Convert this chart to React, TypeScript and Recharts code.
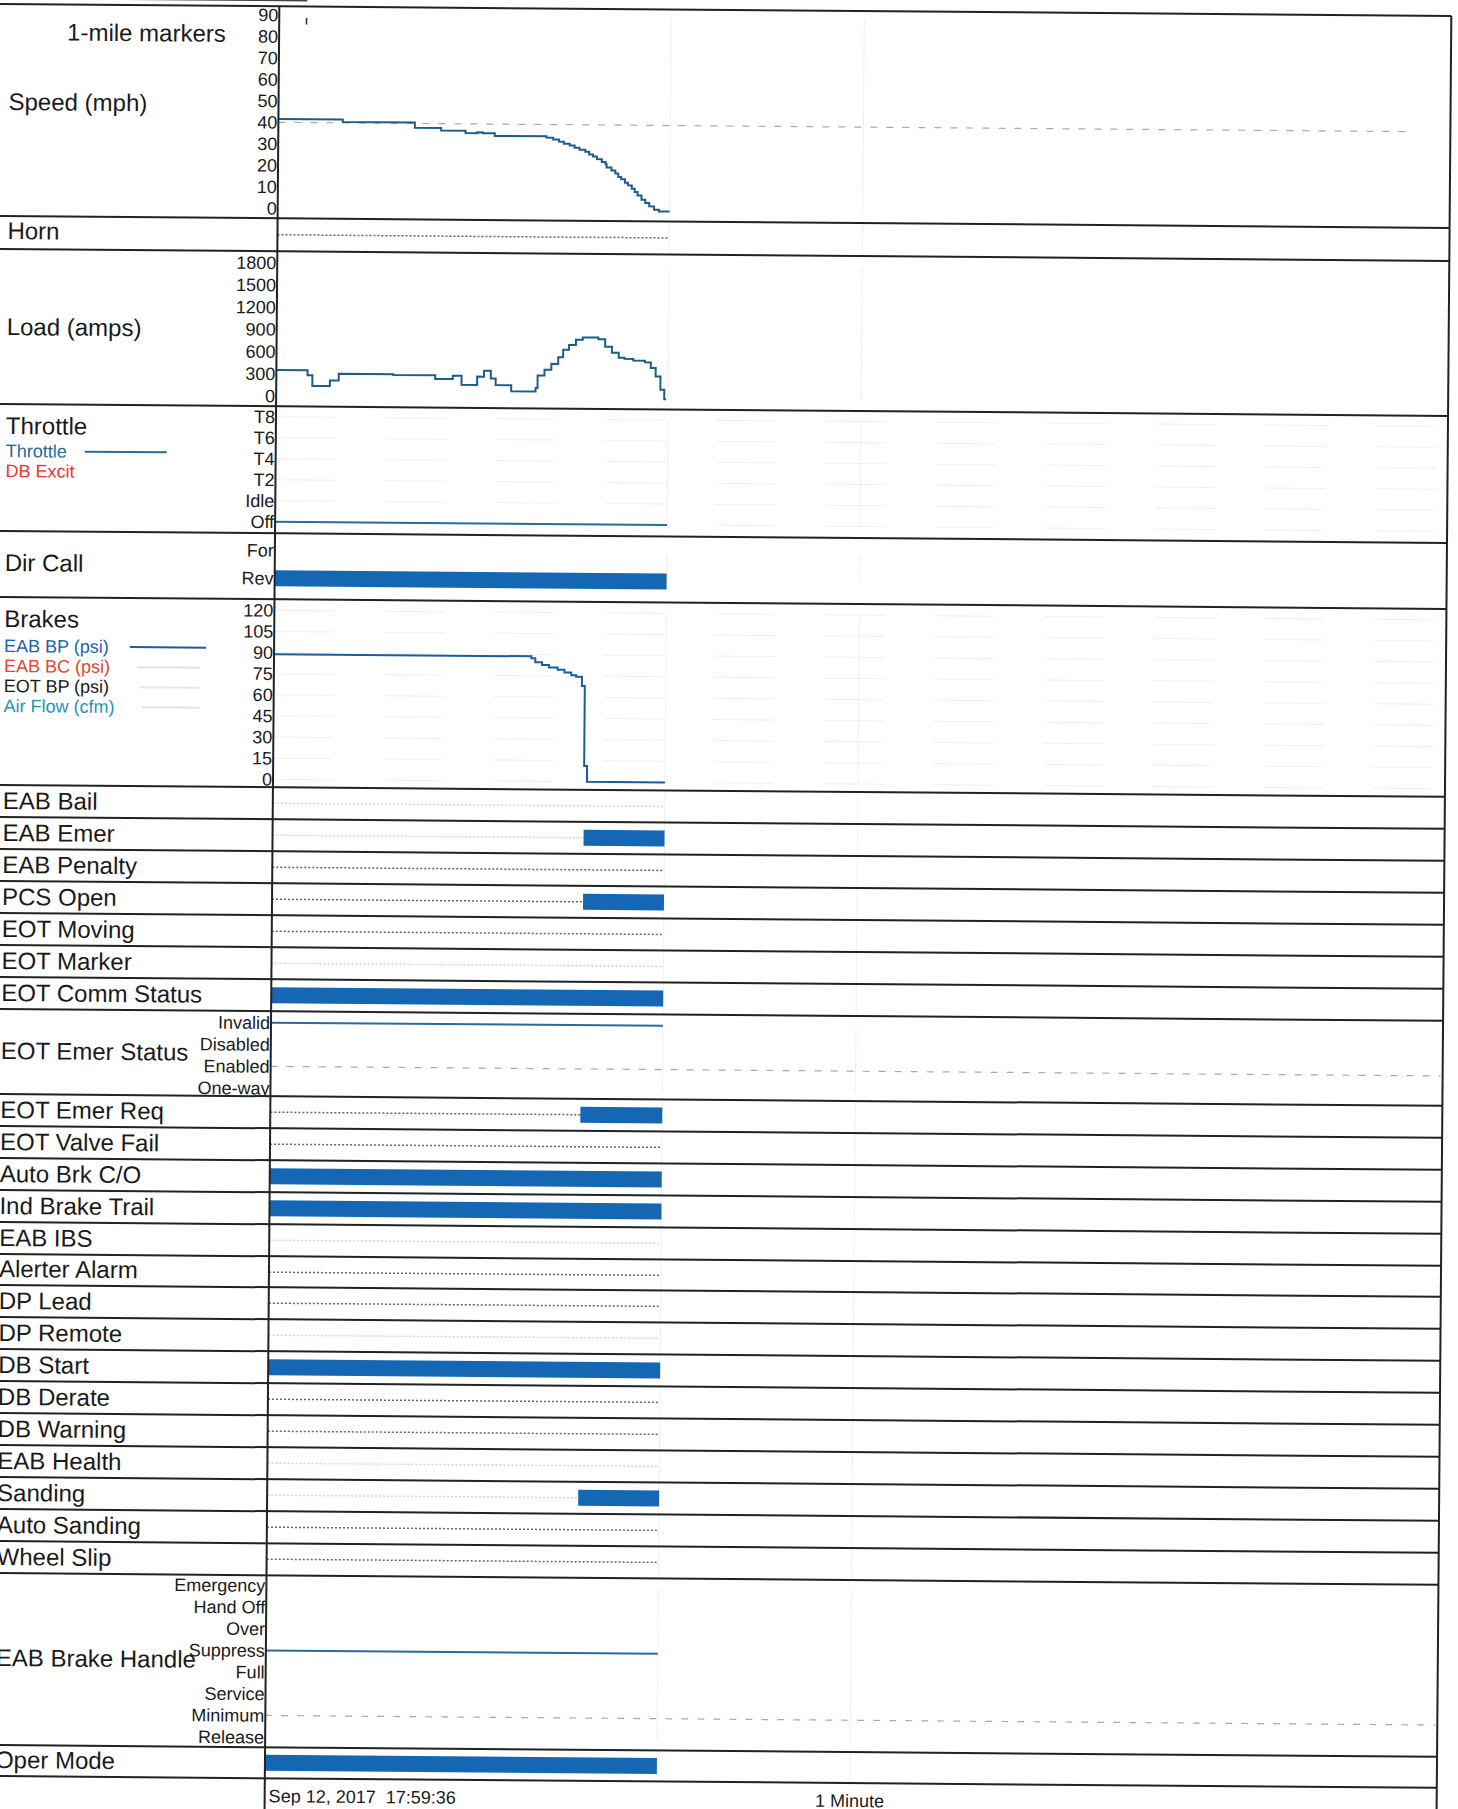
import React from 'react'
import { LineChart, Line, XAxis, YAxis, ReferenceLine, CartesianGrid } from 'recharts'

const W = 1458
const H = 1809
const PLOT_LEFT = 272
const PLOT_RIGHT = 1442
const FRAME_RIGHT = 1444
const AXIS_W = 150
const FONT = '"Liberation Sans", Arial, Helvetica, sans-serif'
const INK = '#1a1a1a'
const TRACE = '#1d5d86'
const BP_BLUE = '#1a5c9c'
const BAR_BLUE = '#1567b4'
const DOT_DARK = '#56697d'
const DOT_FAINT = '#c9d5e2'
const FAINT = '#efefef'

// seconds after Sep 12, 2017 17:59:36
const timeDomain = [0, 120]
const dataEnd = 40.2
const timeTicks = [0, 60]
const timeTickLabels = ['Sep 12, 2017  17:59:36', '1 Minute']

const mileMarkerAt = [2.8]
const speedRefMph = [40]
const speedTicks = [0, 10, 20, 30, 40, 50, 60, 70, 80, 90]
const speedTime = [0, 6.6, 14.0, 16.7, 19.2, 20.4, 21.0, 22.2, 27.5, 28.2, 28.8, 29.3, 29.9, 30.4, 30.9, 31.5, 31.9, 32.3,
  32.7, 33.2, 33.6, 33.7, 34.2, 34.6, 34.9, 35.2, 35.6, 35.9, 36.3, 36.6, 36.9, 37.3, 37.7, 38.1, 38.6, 39.1, 40.2]
const speedMph = [41.6, 40.4, 38.0, 36.8, 35.7, 36.1, 35.7, 34.5, 33.9, 33.1, 32.1, 31.1, 30.3, 29.3, 28.4, 27.5, 26.2, 25.3,
  24.1, 22.8, 21.7, 20.2, 18.9, 17.5, 15.9, 14.8, 13.2, 12.0, 10.4, 8.9, 7.3, 5.4, 3.9, 2.3, 0.8, 0, 0]

const loadTicks = [0, 300, 600, 900, 1200, 1500, 1800]
const loadTime = [0, 3.2, 3.7, 5.5, 6.4, 12.0, 16.3, 18.1, 19.0, 20.6, 21.3, 22.0, 22.5, 24.1, 26.6, 26.8, 27.5, 28.2,
  28.9, 29.4, 30.0, 30.7, 31.4, 33.0, 33.7, 34.4, 35.1, 35.7, 36.6, 37.8, 38.4, 38.9, 39.4, 39.8, 40.0]
const loadAmps = [351, 283, 140, 216, 306, 297, 248, 293, 171, 284, 365, 261, 171, 90, 135, 306, 383, 464,
  554, 657, 720, 792, 824, 801, 702, 621, 554, 540, 518, 495, 419, 306, 126, 0, 0]

const throttleLevels = ['Off', 'Idle', 'T2', 'T4', 'T6', 'T8']
const throttleTime = [0, dataEnd]
const throttleNotch = [0, 0]

const dirLevels = ['Rev', 'For']
const dirTime = [0, dataEnd]
const dirValue = [0, 0]

const brakeTicks = [0, 15, 30, 45, 60, 75, 90, 105, 120]
const bpTime = [0, 26.4, 26.8, 27.5, 28.2, 29.1, 29.8, 30.5, 31.0, 31.6, 31.9, 32.2, 40.2]
const bpPsi = [88.8, 87.4, 84.6, 82.7, 81.0, 79.4, 77.5, 75.6, 74.6, 68.0, 11.3, 0, 0]

const eotEmerLevels = ['One-way', 'Enabled', 'Disabled', 'Invalid']
const eotEmerTime = [0, dataEnd]
const eotEmerValue = [3, 3]
const eotEmerRef = [1]

const handleLevels = ['Release', 'Minimum', 'Service', 'Full', 'Suppress', 'Over', 'Hand Off', 'Emergency']
const handleTime = [0, dataEnd]
const handleValue = [4, 4]
const handleRef = [1]

// on/off signals: time the signal turned on (null = off for the whole window)
const signalsA = ['EAB Bail', 'EAB Emer', 'EAB Penalty', 'PCS Open', 'EOT Moving', 'EOT Marker', 'EOT Comm Status']
const signalsAOn = [null, 31.9, null, 31.9, null, null, 0]
const signalsB = ['EOT Emer Req', 'EOT Valve Fail', 'Auto Brk C/O', 'Ind Brake Trail', 'EAB IBS', 'Alerter Alarm',
  'DP Lead', 'DP Remote', 'DB Start', 'DB Derate', 'DB Warning', 'EAB Health', 'Sanding', 'Auto Sanding', 'Wheel Slip']
const signalsBOn = [31.8, null, 0, 0, null, null, null, null, 0, null, null, null, 31.9, null, null]
const hornOn = [null]
const operModeOn = [0]

// print density of the "off" trace per row
const signalsAInk = ['faint', 'faint', 'dark', 'dark', 'dark', 'faint', 'dark']
const signalsBInk = ['dark', 'dark', 'dark', 'dark', 'faint', 'dark', 'dark', 'faint', 'dark', 'dark', 'dark', 'faint', 'faint', 'dark', 'dark']

const zip = (ts: number[], vs: number[]) => ts.map((t, i) => ({ t, v: vs[i] }))

function signalData(on: number | null) {
  const start = on === null ? dataEnd : on
  const rows: { t: number; off?: number | null; on?: number | null }[] = []
  if (start > 0) {
    rows.push({ t: 0, off: 0.5, on: null })
    rows.push({ t: start, off: 0.5, on: start < dataEnd ? 0.5 : null })
  } else {
    rows.push({ t: 0, off: null, on: 0.5 })
  }
  if (start < dataEnd) rows.push({ t: dataEnd, off: null, on: 0.5 })
  return rows
}

const tickStyle = { fontSize: 18, fill: INK, fontFamily: FONT }

type PanelProps = {
  top: number
  height: number
  mTop?: number
  mBottom?: number
  domain: number[]
  ticks?: number[]
  format?: (v: number) => string
  grid?: boolean
  children?: React.ReactNode
}

function Panel({ top, height, mTop = 0, mBottom = 0, domain, ticks, format, grid, children }: PanelProps) {
  return (
    <div style={{ position: 'absolute', left: 0, top, width: W, height }}>
      <LineChart width={W} height={height}
        margin={{ top: mTop, bottom: mBottom, left: PLOT_LEFT - AXIS_W, right: W - PLOT_RIGHT }}>
        {grid && <CartesianGrid vertical={false} stroke={FAINT} strokeDasharray="60 50" />}
        <XAxis type="number" dataKey="t" domain={timeDomain} hide />
        <YAxis type="number" domain={domain} ticks={ticks} width={AXIS_W} interval={0}
          axisLine={false} tickLine={false} tickSize={0} tickMargin={1}
          tick={ticks ? tickStyle : false} tickFormatter={format} />
        <ReferenceLine x={60} stroke={FAINT} />
        <ReferenceLine x={dataEnd} stroke={FAINT} />
        {children}
      </LineChart>
    </div>
  )
}

function SignalRow({ top, height, on, ink }: { top: number; height: number; on: number | null; ink: string }) {
  const data = signalData(on)
  return (
    <Panel top={top} height={height} domain={[0, 1]}>
      <Line data={data} dataKey="off" type="linear" stroke={ink === 'dark' ? DOT_DARK : DOT_FAINT}
        strokeWidth={1.5} strokeDasharray="2 2" dot={false} activeDot={false} isAnimationActive={false} />
      <Line data={data} dataKey="on" type="linear" stroke={BAR_BLUE} strokeWidth={16}
        dot={false} activeDot={false} isAnimationActive={false} />
    </Panel>
  )
}

function Label({ x = 2, y, size = 24, color = INK, children }: { x?: number; y: number; size?: number; color?: string; children: React.ReactNode }) {
  return (
    <div style={{ position: 'absolute', left: x, top: y - size * 0.5, fontSize: size, lineHeight: `${size}px`, color, whiteSpace: 'pre' }}>
      {children}
    </div>
  )
}

function Rule({ x1, x2, y, color = INK, h = 2 }: { x1: number; x2: number; y: number; color?: string; h?: number }) {
  return <div style={{ position: 'absolute', left: x1, top: y - h / 2, width: x2 - x1, height: h, background: color }} />
}

function TimeTick(props: any) {
  const { x, y, payload } = props
  const i = timeTicks.indexOf(payload.value)
  const first = i === 0
  return (
    <text x={first ? x + 4 : x} y={y} dy={24} textAnchor={first ? 'start' : 'middle'}
      fontSize={18} fontFamily={FONT} fill={INK} style={{ whiteSpace: 'pre' }}>{timeTickLabels[i]}</text>
  )
}

const ROW_A_TOP = 791
const ROW_A_H = 32
const ROW_B_TOP = 1100
const ROW_B_H = 31.9

export default function App() {
  const edges = [10, 222, 255, 410, 537, 603,
    ...signalsA.map((_, i) => ROW_A_TOP + i * ROW_A_H), ROW_A_TOP + signalsA.length * ROW_A_H,
    ...signalsB.map((_, i) => ROW_B_TOP + i * ROW_B_H), ROW_B_TOP + signalsB.length * ROW_B_H,
    1751, 1782]
  const handleTop = ROW_B_TOP + signalsB.length * ROW_B_H

  return (
    <div style={{ position: 'absolute', left: 0, top: 0, width: W, height: H, overflow: 'hidden', background: '#fff' }}>
      <div style={{ position: 'absolute', left: 0, top: 0, width: W, height: H, fontFamily: FONT, color: INK,
        transform: 'rotate(0.47deg)', transformOrigin: `${W / 2}px ${H / 2}px` }}>

        {/* Speed */}
        <Panel top={10} height={212} mTop={8.6} mBottom={10} domain={[0, 90]} ticks={speedTicks}>
          <Line data={[{ t: 0, v: speedRefMph[0] }, { t: 116, v: speedRefMph[0] }]} dataKey="v" stroke="#a9a9a9"
            strokeWidth={1.2} strokeDasharray="7 9" dot={false} activeDot={false} isAnimationActive={false} />
          <ReferenceLine segment={[{ x: mileMarkerAt[0], y: 85.6 }, { x: mileMarkerAt[0], y: 88.6 }]} stroke="#333" strokeWidth={1.5} />
          <Line data={zip(speedTime, speedMph)} dataKey="v" type="stepAfter" stroke={TRACE} strokeWidth={2}
            dot={false} activeDot={false} isAnimationActive={false} />
        </Panel>
        <Label x={60} y={38}>1-mile markers</Label>
        <Label y={108}>Speed (mph)</Label>

        {/* Horn */}
        <SignalRow top={222} height={33} on={hornOn[0]} ink="dark" />
        <Label y={237}>Horn</Label>

        {/* Load */}
        <Panel top={255} height={155} mTop={11.4} mBottom={10.3} domain={[0, 1800]} ticks={loadTicks}>
          <Line data={zip(loadTime, loadAmps)} dataKey="v" type="stepAfter" stroke={TRACE} strokeWidth={2}
            dot={false} activeDot={false} isAnimationActive={false} />
        </Panel>
        <Label y={333}>Load (amps)</Label>

        {/* Throttle */}
        <Panel top={410} height={127} mTop={10.5} mBottom={11.5} domain={[0, 5]} grid
          ticks={throttleLevels.map((_, i) => i)} format={(v) => throttleLevels[v]}>
          <Line data={zip(throttleTime, throttleNotch)} dataKey="v" stroke="#2b6a99" strokeWidth={2}
            dot={false} activeDot={false} isAnimationActive={false} />
        </Panel>
        <Label y={432}>Throttle</Label>
        <Label y={457} size={18} color="#1f6aa0">Throttle</Label>
        <Rule x1={81} x2={163} y={457} color="#2b6a99" />
        <Label y={477} size={18} color="#e8362a">DB Excit</Label>

        {/* Dir Call */}
        <Panel top={537} height={66} mTop={17} mBottom={21} domain={[0, 1]}
          ticks={dirLevels.map((_, i) => i)} format={(v) => dirLevels[v]}>
          <Line data={zip(dirTime, dirValue)} dataKey="v" stroke={BAR_BLUE} strokeWidth={16}
            dot={false} activeDot={false} isAnimationActive={false} />
        </Panel>
        <Label y={569}>Dir Call</Label>

        {/* Brakes */}
        <Panel top={603} height={188} mTop={11} mBottom={8} domain={[0, 120]} ticks={brakeTicks} grid>
          <Line data={zip(bpTime, bpPsi)} dataKey="v" type="stepAfter" stroke={BP_BLUE} strokeWidth={2}
            dot={false} activeDot={false} isAnimationActive={false} />
        </Panel>
        <Label y={625}>Brakes</Label>
        <Label y={652} size={18} color="#1b5fae">EAB BP (psi)</Label>
        <Rule x1={128} x2={204} y={652} color={BP_BLUE} />
        <Label y={672} size={18} color="#e2452b">EAB BC (psi)</Label>
        <Rule x1={135} x2={198} y={672} color="#e2e2e2" />
        <Label y={692} size={18}>EOT BP (psi)</Label>
        <Rule x1={138} x2={198} y={692} color="#e6e6e6" />
        <Label y={712} size={18} color="#1f95b5">Air Flow (cfm)</Label>
        <Rule x1={140} x2={198} y={712} color="#e2e2e2" />

        {/* signal rows, first group */}
        {signalsA.map((name, i) => (
          <React.Fragment key={name}>
            <SignalRow top={ROW_A_TOP + i * ROW_A_H} height={ROW_A_H} on={signalsAOn[i]} ink={signalsAInk[i]} />
            <Label y={ROW_A_TOP + i * ROW_A_H + ROW_A_H / 2}>{name}</Label>
          </React.Fragment>
        ))}

        {/* EOT Emer Status */}
        <Panel top={1015} height={85} mTop={11.4} mBottom={8} domain={[0, 3]}
          ticks={eotEmerLevels.map((_, i) => i)} format={(v) => eotEmerLevels[v]}>
          <ReferenceLine y={eotEmerRef[0]} stroke="#a9a9a9" strokeWidth={1.2} strokeDasharray="7 9" />
          <Line data={zip(eotEmerTime, eotEmerValue)} dataKey="v" stroke="#2b6a99" strokeWidth={2}
            dot={false} activeDot={false} isAnimationActive={false} />
        </Panel>
        <Label y={1057}>EOT Emer Status</Label>

        {/* signal rows, second group */}
        {signalsB.map((name, i) => (
          <React.Fragment key={name}>
            <SignalRow top={ROW_B_TOP + i * ROW_B_H} height={ROW_B_H} on={signalsBOn[i]} ink={signalsBInk[i]} />
            <Label y={ROW_B_TOP + i * ROW_B_H + ROW_B_H / 2}>{name}</Label>
          </React.Fragment>
        ))}

        {/* EAB Brake Handle */}
        <Panel top={handleTop} height={1751 - handleTop} mTop={10.2} mBottom={10.6} domain={[0, 7]}
          ticks={handleLevels.map((_, i) => i)} format={(v) => handleLevels[v]}>
          <ReferenceLine y={handleRef[0]} stroke="#a9a9a9" strokeWidth={1.2} strokeDasharray="7 9" />
          <Line data={zip(handleTime, handleValue)} dataKey="v" stroke="#2b6a99" strokeWidth={2}
            dot={false} activeDot={false} isAnimationActive={false} />
        </Panel>
        <Label y={1664}>EAB Brake Handle</Label>

        {/* Oper Mode + time axis */}
        <div style={{ position: 'absolute', left: 0, top: 1751, width: W, height: 58 }}>
          <LineChart width={W} height={58} margin={{ top: 0, bottom: 0, left: PLOT_LEFT - AXIS_W, right: W - PLOT_RIGHT }}>
            <XAxis type="number" dataKey="t" domain={timeDomain} ticks={timeTicks} interval={0} height={27}
              axisLine={false} tickLine={false} tickSize={0} tickMargin={0} tick={<TimeTick />} />
            <YAxis type="number" domain={[0, 1]} width={AXIS_W} tick={false} axisLine={false} tickLine={false} />
            <ReferenceLine x={60} stroke={FAINT} />
            <Line data={signalData(operModeOn[0])} dataKey="on" stroke={BAR_BLUE} strokeWidth={16}
              dot={false} activeDot={false} isAnimationActive={false} />
          </LineChart>
        </div>
        <Label y={1766}>Oper Mode</Label>

        {/* frame */}
        {edges.map((y, i) => <Rule key={i} x1={-40} x2={FRAME_RIGHT} y={y} color="#222" />)}
        <Rule x1={-40} x2={300} y={4} color="#444" h={1.5} />
        <div style={{ position: 'absolute', left: 204, top: -10, width: 1.5, height: 14, background: '#444' }} />
        <div style={{ position: 'absolute', left: PLOT_LEFT - 1, top: 10, width: 2, height: H + 20, background: '#222' }} />
        <div style={{ position: 'absolute', left: FRAME_RIGHT - 1, top: 10, width: 2, height: H + 20, background: '#222' }} />
      </div>
    </div>
  )
}
